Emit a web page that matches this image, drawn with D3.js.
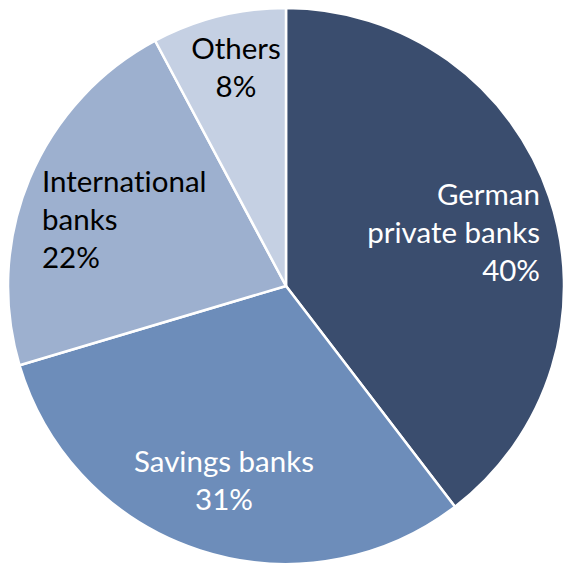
<!DOCTYPE html>
<html><head><meta charset="utf-8">
<script src="https://cdn.jsdelivr.net/npm/d3@7"></script>
<style>html,body{margin:0;padding:0;background:#fff;} text{font-variant-ligatures:none;font-feature-settings:"liga" 0, "clig" 0;}</style>
</head><body>
<svg id="chart" width="563" height="564"></svg>
<script>
const categories = ["German private banks", "Savings banks", "International banks", "Others"];
const values = [39.6, 30.8, 21.8, 7.8];
const labelLines = [["German", "private banks", "40%"], ["Savings banks", "31%"], ["International", "banks", "22%"], ["Others", "8%"]];
const colors = ["#3A4D6E", "#6D8DBA", "#9DB0CF", "#C5D0E3"];
const textColors = ["#ffffff", "#ffffff", "#000000", "#000000"];
// label anchor points and alignment
const labelPos = [[540, 205, "end"], [224, 472, "middle"], [42, 192, "start"], [236, 59, "middle"]];

const svg = d3.select("#chart");
const cx = 286, cy = 286, r = 278;
const g = svg.append("g").attr("transform", `translate(${cx},${cy})`);
const pie = d3.pie().sort(null).value(d => d)(values);
const arc = d3.arc().innerRadius(0).outerRadius(r);
g.selectAll("path").data(pie).join("path")
  .attr("d", arc)
  .attr("fill", (d, i) => colors[i])
  .attr("stroke", "#fff").attr("stroke-width", 2.5).attr("stroke-linejoin", "round");

const lh = 38;
labelLines.forEach((lines, i) => {
  const [x, y, anchor] = labelPos[i];
  const t = svg.append("text")
    .attr("x", x).attr("y", y)
    .attr("text-anchor", anchor)
    .attr("fill", textColors[i])
    .style("font-family", "Lato, 'Open Sans', sans-serif")
    .style("font-size", "29.5px");
  lines.forEach((s, j) => {
    t.append("tspan").attr("x", x).attr("dy", j === 0 ? 0 : lh).text(s);
  });
});
</script>
</body></html>
